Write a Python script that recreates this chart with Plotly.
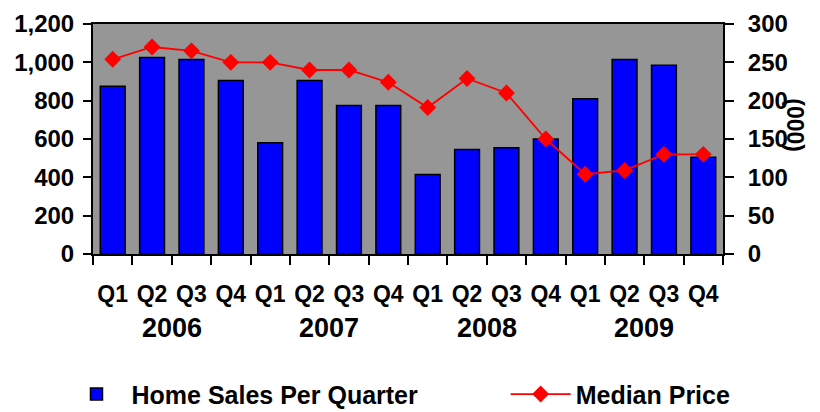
import plotly.graph_objects as go

quarters = ["Q1", "Q2", "Q3", "Q4"] * 4
years = ["2006", "2007", "2008", "2009"]
home_sales = [875, 1025, 1015, 905, 580, 905, 775, 775, 415, 545, 555, 600, 810, 1015, 985, 505]
median_price = [254, 270, 265, 250, 250, 240, 240, 224, 191, 229, 210, 150, 104, 109, 130, 130]
left_ticks = [0, 200, 400, 600, 800, 1000, 1200]
right_ticks = [0, 50, 100, 150, 200, 250, 300]

x = list(range(len(quarters)))
FONT = "Liberation Sans, Arial, sans-serif"

fig = go.Figure()
fig.add_trace(go.Bar(
    x=x, y=home_sales, name="<b>Home Sales Per Quarter</b>",
    marker=dict(color="#0000FF", line=dict(color="black", width=1.5)),
    yaxis="y", legend="legend",
))
fig.add_trace(go.Scatter(
    x=x, y=median_price, name="<b>Median Price</b>", mode="lines+markers",
    line=dict(color="#FF0000", width=1.8),
    marker=dict(symbol="diamond", size=13, color="#FF0000"),
    yaxis="y2", legend="legend2",
))

for i, yr in enumerate(years):
    fig.add_annotation(x=i * 4 + 1.5, y=-0.32, xref="x", yref="paper",
                       text=f"<b>{yr}</b>", showarrow=False,
                       font=dict(family=FONT, size=27, color="black"),
                       yanchor="middle")

fig.add_annotation(x=1.138, y=0.56, xref="paper", yref="paper", text="<b>(000)</b>",
                   textangle=90, showarrow=False,
                   font=dict(family=FONT, size=23, color="black"))

legend_common = dict(orientation="h", yanchor="middle", y=-0.61,
                     font=dict(family=FONT, size=25, color="black"),
                     bgcolor="rgba(0,0,0,0)", itemwidth=60)

fig.update_layout(
    width=820, height=412,
    margin=dict(l=85, r=105, t=16, b=166, autoexpand=False),
    paper_bgcolor="white",
    plot_bgcolor="#969696",
    bargap=0.37,
    font=dict(family=FONT, size=24, color="black"),
    showlegend=True,
    legend=dict(legend_common, x=-0.05, xanchor="left"),
    legend2=dict(legend_common, x=0.655, xanchor="left"),
    xaxis=dict(
        range=[-0.5, 15.5], tickvals=x,
        ticktext=[f"<b>{q}</b>" for q in quarters],
        ticks="", showgrid=False, zeroline=False, automargin=False,
        showline=True, linecolor="black", linewidth=2, mirror=True,
        tickfont=dict(family=FONT, size=23, color="black"),
        ticklabelstandoff=18,
        minor=dict(tickvals=[i - 0.5 for i in range(17)], ticks="outside",
                   ticklen=9, tickwidth=2, tickcolor="black", showgrid=False),
    ),
    yaxis=dict(
        range=[0, 1200], tickvals=left_ticks,
        ticktext=[f"<b>{v:,}</b>" for v in left_ticks],
        ticks="outside", ticklen=8, tickwidth=2, tickcolor="black",
        showgrid=False, zeroline=False, automargin=False,
        showline=True, linecolor="black", linewidth=2,
        tickfont=dict(family=FONT, size=24, color="black"),
        ticklabelstandoff=4,
    ),
    yaxis2=dict(
        range=[0, 300], tickvals=right_ticks,
        ticktext=[f"<b>{v}</b>" for v in right_ticks],
        overlaying="y", side="right",
        ticks="outside", ticklen=9, tickwidth=2, tickcolor="black",
        showgrid=False, zeroline=False, automargin=False,
        showline=True, linecolor="black", linewidth=2,
        tickfont=dict(family=FONT, size=24, color="black"),
        ticklabelstandoff=9,
    ),
)

fig.write_html("out.html")
